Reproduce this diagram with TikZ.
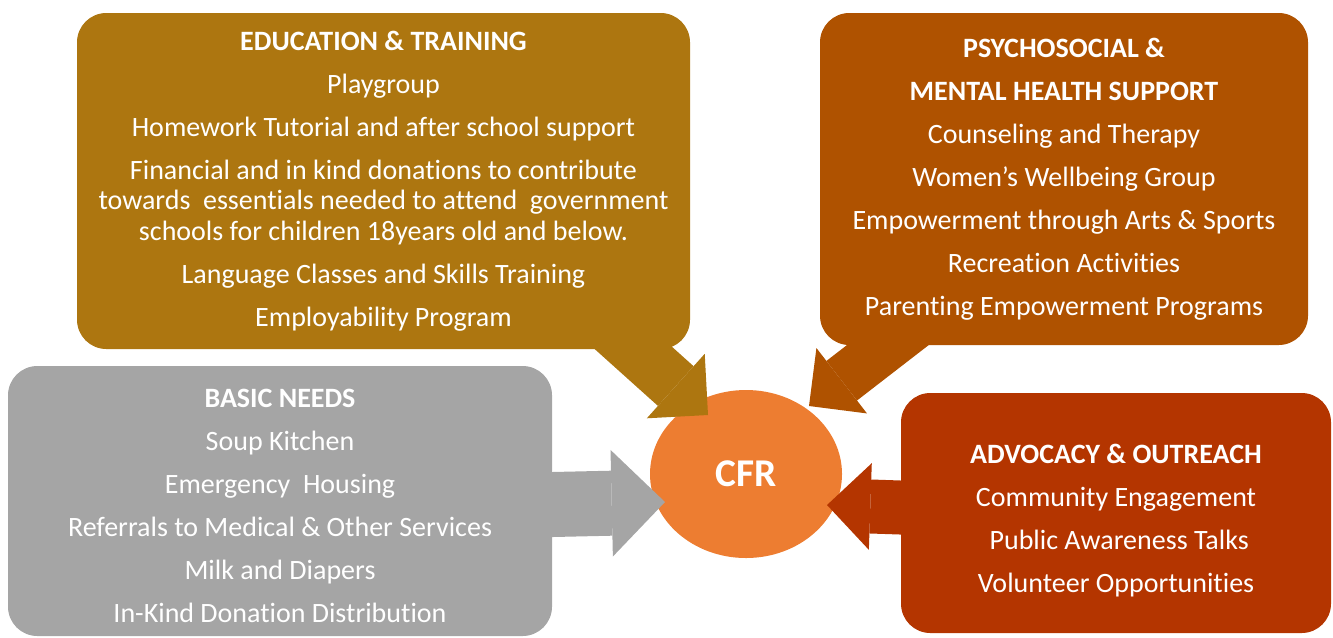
\documentclass[tikz,border=0pt]{standalone}
\usepackage{fontspec}
\setmainfont[Ligatures={NoCommon,NoContextual}]{Carlito}
\usetikzlibrary{arrows.meta,shapes.geometric}

\definecolor{edugold}{RGB}{173,118,16}
\definecolor{psybrown}{RGB}{175,82,0}
\definecolor{basicgray}{RGB}{165,165,165}
\definecolor{advred}{RGB}{180,53,0}
\definecolor{cfrorange}{RGB}{237,125,49}

\newcommand\rowgap{9.3pt}
\newcommand\lift[1]{\rule{0pt}{#1}}

\tikzset{
  box/.style={rounded corners=22pt, text=white, align=center, inner sep=0pt,
    font=\fontsize{21}{22.9}\selectfont},
  blockarrow/.style 2 args={line width=#1,
    -{Triangle[width=#2, length=0.5*#2, line width=0pt]}}
}

\begin{document}
\begin{tikzpicture}[x=0.75pt, y=-0.75pt]
  \useasboundingbox (0,0) rectangle (1333,637);

  % centre
  \node[ellipse, fill=cfrorange, minimum width=144pt, minimum height=126pt,
    text=white, font=\fontsize{29.5}{32}\selectfont\bfseries] (cfr) at (746,474) {CFR};

  % arrow ends
  \coordinate (eduout) at (600,318);
  \coordinate (edutip) at (708,415);
  \coordinate (psyout) at (928,314);
  \coordinate (psytip) at (809,406);
  \coordinate (basicout) at (530,505);
  \coordinate (basictip) at (665,502);
  \coordinate (advout) at (915,508);
  \coordinate (advtip) at (827,505);

  \draw[edugold, blockarrow={40pt}{65pt}] (eduout) -- (edutip);
  \draw[psybrown, blockarrow={37.5pt}{62pt}] (psyout) -- (psytip);
  \draw[basicgray, blockarrow={48.75pt}{80pt}] (basicout) -- (basictip);
  \draw[advred, blockarrow={40.5pt}{65pt}] (advout) -- (advtip);

  % boxes
  \node[box, fill=edugold, minimum width=459.75pt, minimum height=252pt] (edu) at (383.5,181) {%
    {\bfseries EDUCATION \& TRAINING}\\[\rowgap]
    Playgroup\\[\rowgap]
    Homework Tutorial and after school support\\[\rowgap]
    Financial and in kind donations to contribute\\
    towards~ essentials needed to attend~ government\\
    schools for children 18years old and below.\\[\rowgap]
    Language Classes and Skills Training\\[\rowgap]
    Employability Program};

  \node[box, fill=psybrown, minimum width=366pt, minimum height=249pt] (psy) at (1064,179) {%
    {\bfseries PSYCHOSOCIAL \&}\\[\rowgap]
    {\bfseries MENTAL HEALTH SUPPORT}\\[\rowgap]
    Counseling and Therapy\\[\rowgap]
    Women’s Wellbeing Group\\[\rowgap]
    Empowerment through Arts \& Sports\\[\rowgap]
    Recreation Activities\\[\rowgap]
    Parenting Empowerment Programs};

  \node[box, fill=basicgray, minimum width=408pt, minimum height=202.5pt] (basic) at (280,501) {%
    \lift{21pt}{\bfseries BASIC NEEDS}\\[\rowgap]
    Soup Kitchen\\[\rowgap]
    Emergency~ Housing\\[\rowgap]
    Referrals to Medical \& Other Services\\[\rowgap]
    Milk and Diapers\\[\rowgap]
    In-Kind Donation Distribution};

  \node[box, fill=advred, minimum width=322.5pt, minimum height=180pt] (adv) at (1116,513) {%
    \lift{26pt}{\bfseries ADVOCACY \& OUTREACH}\\[\rowgap]
    Community Engagement\\[\rowgap]
    ~Public Awareness Talks\\[\rowgap]
    Volunteer Opportunities};
\end{tikzpicture}
\end{document}
